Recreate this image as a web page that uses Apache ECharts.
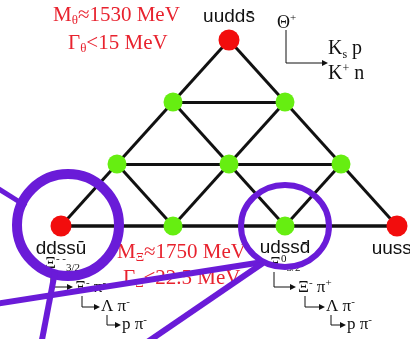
<!DOCTYPE html>
<html>
<head>
<meta charset="utf-8">
<script src="https://cdn.jsdelivr.net/npm/echarts@6/dist/echarts.min.js"></script>
<style>
  html, body { margin: 0; padding: 0; background: #ffffff; }
  #chart { width: 410px; height: 339px; }
</style>
</head>
<body>
<div id="chart"></div>
<script>
// Pentaquark antidecuplet weight diagram: isospin I3 across, hypercharge Y up.
const memberNames = ['Θ+', 'N+', 'N0', 'Σ-', 'Σ0', 'Σ+', 'Ξ--', 'Ξ-', 'Ξ0', 'Ξ+'];
const isospinI3 = [0, -0.5, 0.5, -1, 0, 1, -1.5, -0.5, 0.5, 1.5];
const hyperchargeY = [2, 1, 1, 0, 0, 0, -1, -1, -1, -1];
const isExotic = [true, false, false, false, false, false, true, false, false, true];
const quarkContent = ['uudds\u0304', '', '', '', '', '', 'ddss\u016b', '', 'udssd\u0304', 'uussd\u0304'];
// lattice edges between neighbouring multiplet members
const latticeEdges = [
  [0, 1], [0, 2], [1, 2],
  [1, 3], [1, 4], [2, 4], [2, 5], [3, 4], [4, 5],
  [3, 6], [3, 7], [4, 7], [4, 8], [5, 8], [5, 9],
  [6, 7], [7, 8], [8, 9]
];
const thetaMass = '1530', thetaWidth = '15';
const xiMass = '1750', xiWidth = '22.5';

const SERIF = '"Liberation Serif", "DejaVu Serif", serif';
const SANS = '"Liberation Sans", Arial, sans-serif';
const RED = '#e8222e';
const PURPLE = '#6a1bd8';
const INK = '#111111';

const chart = echarts.init(document.getElementById('chart'), null, { renderer: 'canvas' });

// rich styles for sub/superscripts
function richSet(size) {
  return {
    b: { fontFamily: SERIF, fontSize: size },
    sub: { fontFamily: SERIF, fontSize: Math.round(size * 0.62), padding: [Math.round(size * 0.55), 0, 0, 0] },
    sup: { fontFamily: SERIF, fontSize: Math.round(size * 0.62), padding: [0, 0, Math.round(size * 0.55), 0] }
  };
}

function label(text, x, y, size, color, z) {
  const rich = richSet(size);
  Object.keys(rich).forEach(k => { rich[k].color = color; });
  return {
    type: 'text', x: x, y: y, z: z || 20, silent: true,
    style: {
      text: text, font: size + 'px ' + SERIF, fill: color,
      align: 'left', verticalAlign: 'middle',
      textAlign: 'left', textVerticalAlign: 'middle',
      rich: rich
    }
  };
}

// small "down then right" decay hook with arrowhead
function hook(x, yTop, yBottom, xTip) {
  return [
    {
      type: 'polyline', z: 20, silent: true,
      shape: { points: [[x, yTop], [x, yBottom], [xTip - 5, yBottom]] },
      style: { stroke: INK, lineWidth: 1, fill: null }
    },
    {
      type: 'polygon', z: 20, silent: true,
      shape: { points: [[xTip - 6, yBottom - 3], [xTip, yBottom], [xTip - 6, yBottom + 3]] },
      style: { fill: INK }
    }
  ];
}

function ring(cx, cy, rx, ry, w) {
  return {
    type: 'ellipse', z: 100, silent: true,
    shape: { cx: cx, cy: cy, rx: rx, ry: ry },
    style: { stroke: PURPLE, lineWidth: w, fill: null }
  };
}

function stroke(x1, y1, x2, y2, w) {
  return {
    type: 'line', z: 100, silent: true,
    shape: { x1: x1, y1: y1, x2: x2, y2: y2 },
    style: { stroke: PURPLE, lineWidth: w, lineCap: 'butt' }
  };
}

const graphicElements = [].concat(
  // mass / width annotations
  [
    label('{b|M}{sub|θ}{b|≈' + thetaMass + ' MeV}', 53, 15, 21, RED),
    label('{b|Γ}{sub|θ}{b|<' + thetaWidth + ' MeV}', 68, 43, 21, RED),
    label('{b|M}{sub|Ξ}{b|≈' + xiMass + ' MeV}', 117, 252, 21, RED),
    label('{b|Γ}{sub|Ξ}{b|<' + xiWidth + ' MeV}', 123, 278, 21, RED)
  ],
  // Θ+ decay modes
  [
    label('{b|Θ}{sup|+}', 277, 23, 18, INK),
    label('{b|K}{sub|s}{b| p}', 328, 49, 20, INK),
    label('{b|K}{sup|+}{b| n}', 328, 74, 20, INK)
  ],
  hook(286, 30, 63, 328),
  // Ξ-- decay chain
  [
    label('{b|Ξ}{sup|- -}{sub|3/2}', 45, 264, 17, INK),
    label('{b|Ξ}{sup|-}{b| π}{sup|-}', 75, 288, 17, INK),
    label('{b|Λ π}{sup|-}', 101, 307, 17, INK),
    label('{b|p π}{sup|-}', 122, 325, 17, INK)
  ],
  hook(51, 272, 287, 73),
  hook(82, 296, 307, 100),
  hook(107, 315, 325, 121),
  // Ξ0 decay chain
  [
    label('{b|Ξ}{sup|0}{sub|3/2}', 270, 264, 17, INK),
    label('{b|Ξ}{sup|-}{b| π}{sup|+}', 298, 288, 17, INK),
    label('{b|Λ π}{sup|-}', 326, 307, 17, INK),
    label('{b|p π}{sup|-}', 347, 325, 17, INK)
  ],
  hook(274, 272, 287, 296),
  hook(305, 296, 307, 325),
  hook(331, 315, 325, 346),
  // highlight marks
  [
    ring(68, 225, 51, 51, 10),
    ring(285, 226, 44, 41, 6),
    stroke(-6, 186, 26, 206, 5),
    stroke(-5, 304, 263, 262, 6),
    stroke(55, 272, 41, 345, 6),
    stroke(263, 263, 143, 345, 6)
  ]
);

chart.setOption({
  animation: false,
  backgroundColor: '#ffffff',
  grid: { left: 5, width: 392, top: 40, height: 186, containLabel: false },
  xAxis: { type: 'value', min: -2, max: 1.5, show: false },
  yAxis: { type: 'value', min: -1, max: 2, show: false },
  series: [{
    type: 'graph',
    coordinateSystem: 'cartesian2d',
    z: 5,
    data: memberNames.map((name, i) => ({
      name: name,
      value: [isospinI3[i], hyperchargeY[i]],
      symbol: 'circle',
      symbolSize: isExotic[i] ? 21 : 19,
      itemStyle: { color: isExotic[i] ? '#f20d0d' : '#66ee11', borderWidth: 0 },
      label: {
        show: quarkContent[i] !== '',
        position: hyperchargeY[i] > 0 ? 'top' : 'bottom',
        distance: hyperchargeY[i] > 0 ? 3 : 3
      }
    })),
    links: latticeEdges.map(([a, b]) => ({
      source: a, target: b,
      lineStyle: { width: (hyperchargeY[a] === -1 && hyperchargeY[b] === -1) ? 3.5 : 3 }
    })),
    lineStyle: { color: INK, width: 3, opacity: 1, curveness: 0 },
    label: {
      formatter: p => quarkContent[p.dataIndex],
      fontFamily: SANS, fontSize: 19, color: INK
    },
    emphasis: { disabled: true }
  }],
  graphic: { elements: graphicElements }
});
</script>
</body>
</html>
